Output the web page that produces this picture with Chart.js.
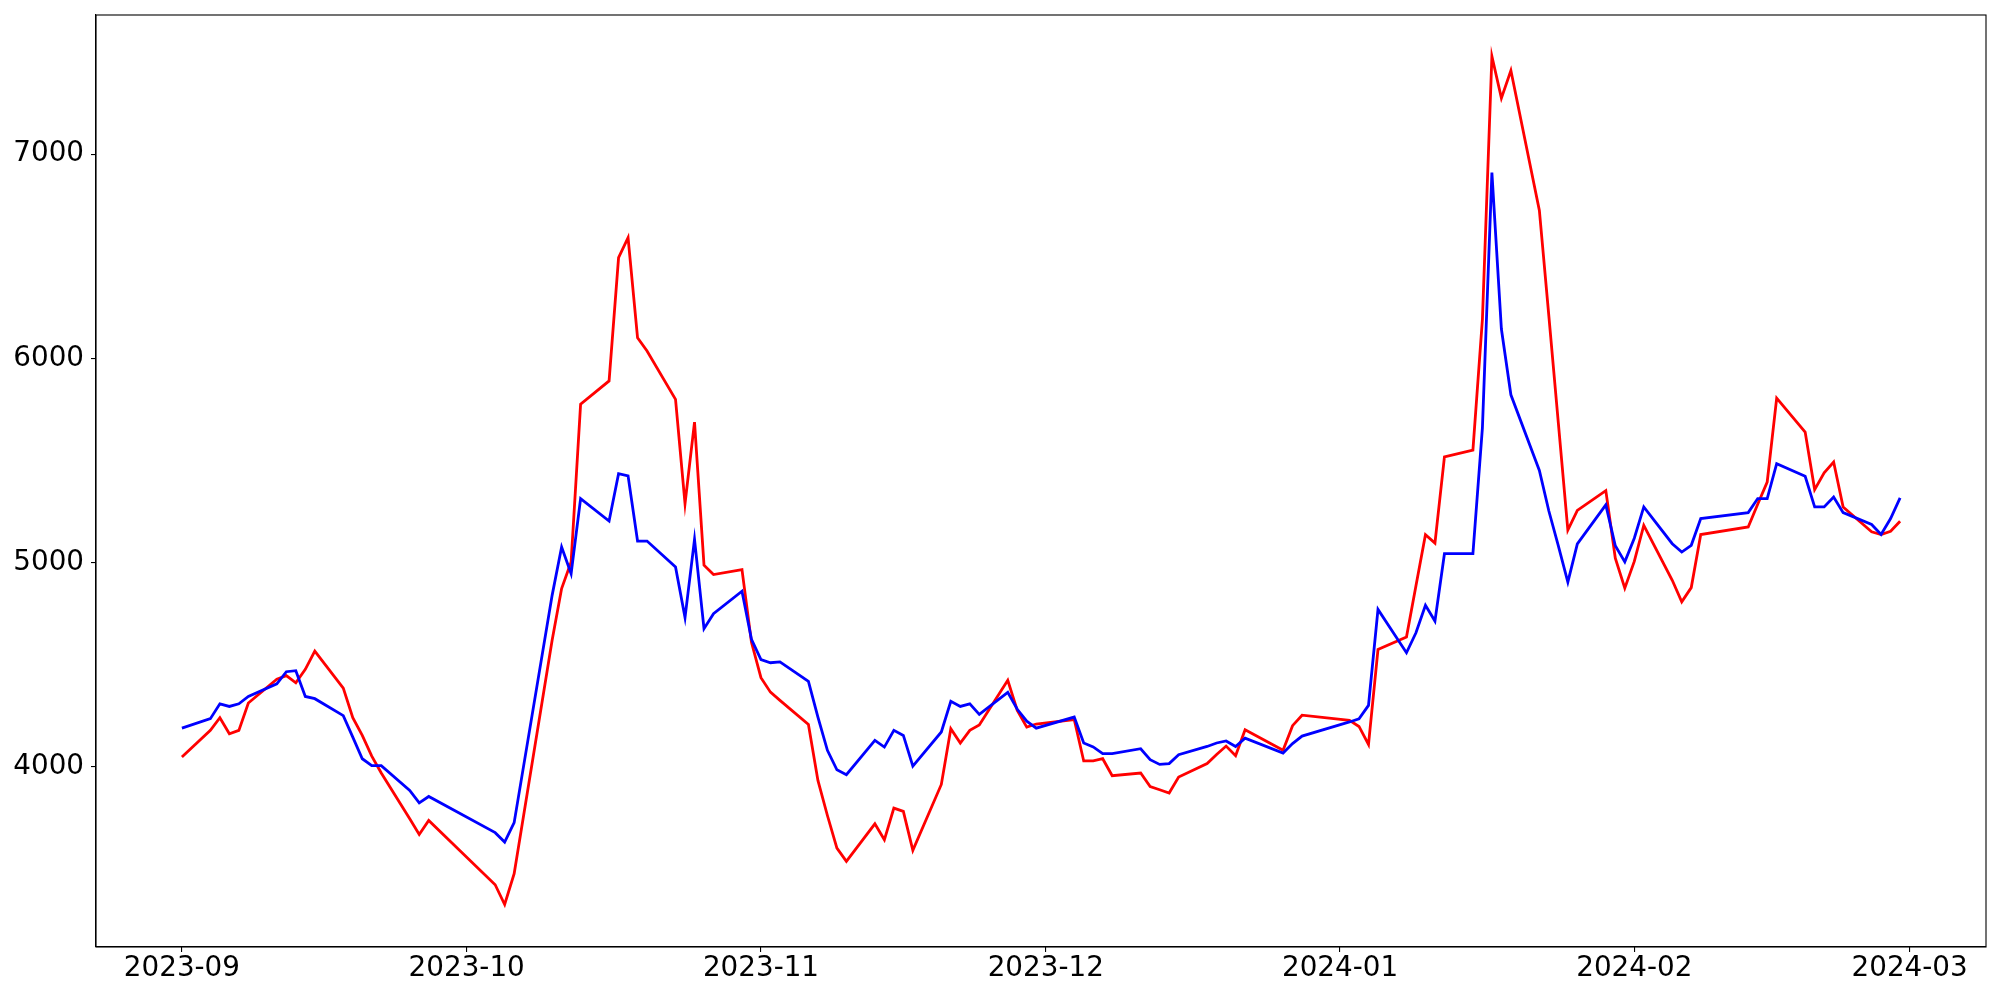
<!DOCTYPE html>
<html>
<head>
<meta charset="utf-8">
<script src="https://cdn.jsdelivr.net/npm/chart.js@4.4.1/dist/chart.umd.min.js"></script>
<style>
  html, body { margin: 0; padding: 0; background: #fff; }
  #chartContainer { display: block; }
</style>
</head>
<body>
<canvas id="chartContainer" width="2000" height="1000"></canvas>
<script>
// trading days
const dates = [
  '2023-09-01', '2023-09-04', '2023-09-05', '2023-09-06', '2023-09-07', '2023-09-08',
  '2023-09-11', '2023-09-12', '2023-09-13', '2023-09-14', '2023-09-15',
  '2023-09-18', '2023-09-19', '2023-09-20', '2023-09-21', '2023-09-22',
  '2023-09-25', '2023-09-26', '2023-09-27',
  '2023-10-04', '2023-10-05', '2023-10-06',
  '2023-10-10', '2023-10-11', '2023-10-12', '2023-10-13',
  '2023-10-16', '2023-10-17', '2023-10-18', '2023-10-19', '2023-10-20',
  '2023-10-23', '2023-10-24', '2023-10-25', '2023-10-26', '2023-10-27',
  '2023-10-30', '2023-10-31', '2023-11-01', '2023-11-02', '2023-11-03',
  '2023-11-06', '2023-11-07', '2023-11-08', '2023-11-09', '2023-11-10',
  '2023-11-13', '2023-11-14', '2023-11-15', '2023-11-16', '2023-11-17',
  '2023-11-20', '2023-11-21', '2023-11-22', '2023-11-23', '2023-11-24',
  '2023-11-27', '2023-11-28', '2023-11-29', '2023-11-30',
  '2023-12-04', '2023-12-05', '2023-12-06', '2023-12-07', '2023-12-08',
  '2023-12-11', '2023-12-12', '2023-12-13', '2023-12-14', '2023-12-15',
  '2023-12-18', '2023-12-19', '2023-12-20', '2023-12-21', '2023-12-22',
  '2023-12-26', '2023-12-27', '2023-12-28',
  '2024-01-02', '2024-01-03', '2024-01-04', '2024-01-05',
  '2024-01-08', '2024-01-09', '2024-01-10', '2024-01-11', '2024-01-12',
  '2024-01-15', '2024-01-16', '2024-01-17', '2024-01-18', '2024-01-19',
  '2024-01-22', '2024-01-23', '2024-01-24', '2024-01-25', '2024-01-26',
  '2024-01-29', '2024-01-30', '2024-01-31', '2024-02-01', '2024-02-02',
  '2024-02-05', '2024-02-06', '2024-02-07', '2024-02-08',
  '2024-02-13', '2024-02-14', '2024-02-15', '2024-02-16',
  '2024-02-19', '2024-02-20', '2024-02-21', '2024-02-22', '2024-02-23',
  '2024-02-26', '2024-02-27', '2024-02-28', '2024-02-29'
];

const redValues = [
  4048, 4179, 4241, 4162, 4179, 4313,
  4429, 4447, 4412, 4478, 4567,
  4386, 4241, 4154, 4053, 3970,
  3746, 3669, 3738,
  3423, 3326, 3477,
  4620, 4873, 5004, 5776,
  5890, 6494, 6592, 6101, 6037,
  5800, 5289, 5688, 4988, 4942,
  4966, 4610, 4437, 4366, 4326,
  4208, 3934, 3762, 3602, 3537,
  3721, 3643, 3798, 3782, 3591,
  3914, 4187, 4117, 4179, 4205,
  4424, 4277, 4195, 4210,
  4232, 4029, 4029, 4040, 3957,
  3970, 3904, 3888, 3872, 3950,
  4016, 4061, 4102, 4055, 4182,
  4081, 4202, 4253,
  4228, 4198, 4110, 4575,
  4636, 4887, 5137, 5096, 5518,
  5551, 6191, 7480, 7275, 7410,
  6725, 6207, 5683, 5160, 5256,
  5353, 5022, 4875, 5006, 5183,
  4914, 4808, 4878, 5138,
  5175, 5286, 5395, 5806,
  5640, 5358, 5440, 5493, 5273,
  5151, 5138, 5154, 5203
];

const blueValues = [
  4190, 4236, 4309, 4296, 4309, 4345,
  4407, 4466, 4471, 4345, 4334,
  4251, 4146, 4040, 4006, 4006,
  3885, 3824, 3855,
  3678, 3632, 3727,
  4840, 5077, 4946, 5314,
  5204, 5436, 5425, 5106, 5106,
  4979, 4731, 5114, 4677, 4750,
  4860, 4625, 4525, 4510, 4514,
  4419, 4244, 4081, 3986, 3962,
  4130, 4097, 4179, 4154, 4004,
  4171, 4321, 4296, 4309, 4257,
  4365, 4282, 4224, 4190,
  4244, 4117, 4098, 4065, 4065,
  4089, 4035, 4012, 4016, 4060,
  4100, 4117, 4127, 4100, 4141,
  4068, 4114, 4151,
  4220, 4235, 4301, 4771,
  4559, 4657, 4791, 4714, 5044,
  5044, 5660, 6910, 6144, 5822,
  5452, 5253, 5082, 4905, 5092,
  5283, 5083, 5004, 5120, 5273,
  5093, 5052, 5085, 5216,
  5245, 5314, 5314, 5485,
  5423, 5273, 5273, 5322, 5245,
  5187, 5138, 5216, 5317
];

const monthLabels = ['2023-09', '2023-10', '2023-11', '2023-12', '2024-01', '2024-02', '2024-03'];
const yTicks = [4000, 5000, 6000, 7000];
const yMin = 3118;
const yMax = 7682;

// x axis runs in days since 2023-09-01
const start = Date.UTC(2023, 8, 1);
function dayOf(s) {
  const p = s.split('-').map(Number);
  return (Date.UTC(p[0], p[1] - 1, p[2] || 1) - start) / 86400000;
}
const days = dates.map(dayOf);
const monthDays = monthLabels.map(dayOf);
const span = days[days.length - 1] - days[0];
const xMin = days[0] - span * 0.05;
const xMax = days[days.length - 1] + span * 0.05;

const frame = {
  id: 'frame',
  afterDatasetsDraw(chart) {
    const a = chart.chartArea;
    const ctx = chart.ctx;
    ctx.save();
    ctx.strokeStyle = '#000';
    ctx.lineWidth = 1.1;
    ctx.strokeRect(a.left, a.top, a.right - a.left, a.bottom - a.top);
    ctx.restore();
  }
};

// no extra room for half-labels, the layout padding decides the plot box
function noPad(scale) {
  scale.paddingTop = 0;
  scale.paddingBottom = 0;
  scale.paddingLeft = 0;
  scale.paddingRight = 0;
}

const font = { family: 'DejaVu Sans', size: 27.8 };

let chartContainer = document.getElementById('chartContainer').getContext('2d');
let chart = new Chart(chartContainer, {
  type: 'line',
  data: {
    datasets: [{
      label: 'red',
      data: days.map((d, i) => ({ x: d, y: redValues[i] })),
      borderColor: '#ff0000',
      borderWidth: 2.8,
      pointRadius: 0,
      tension: 0,
      fill: false,
      order: 2
    },
    {
      label: 'blue',
      data: days.map((d, i) => ({ x: d, y: blueValues[i] })),
      borderColor: '#0000ff',
      borderWidth: 2.8,
      pointRadius: 0,
      tension: 0,
      fill: false,
      order: 1
    }]
  },
  options: {
    responsive: false,
    animation: false,
    devicePixelRatio: 1,
    layout: { padding: { top: 15, right: 14, left: 0, bottom: 0 } },
    plugins: {
      legend: { display: false },
      tooltip: { enabled: false }
    },
    scales: {
      x: {
        type: 'linear',
        min: xMin,
        max: xMax,
        afterBuildTicks: (scale) => { scale.ticks = monthDays.map(v => ({ value: v })); },
        afterFit: (scale) => { scale.height = 53; noPad(scale); },
        grid: { display: true, drawOnChartArea: false, drawTicks: true, tickLength: 5, color: '#000', lineWidth: 1.1 },
        border: { display: true, color: '#000', width: 1.1 },
        ticks: {
          autoSkip: false,
          maxRotation: 0,
          padding: 0,
          color: '#000',
          font: font,
          callback: (v) => monthLabels[monthDays.indexOf(v)]
        }
      },
      y: {
        type: 'linear',
        min: yMin,
        max: yMax,
        afterBuildTicks: (scale) => { scale.ticks = yTicks.map(v => ({ value: v })); },
        afterFit: (scale) => { scale.width = 96; noPad(scale); },
        grid: { display: true, drawOnChartArea: false, drawTicks: true, tickLength: 5, color: '#000', lineWidth: 1.1 },
        border: { display: true, color: '#000', width: 1.1 },
        ticks: {
          padding: 7,
          color: '#000',
          font: font,
          callback: (v) => String(v)
        }
      }
    }
  },
  plugins: [frame]
});
</script>
</body>
</html>
